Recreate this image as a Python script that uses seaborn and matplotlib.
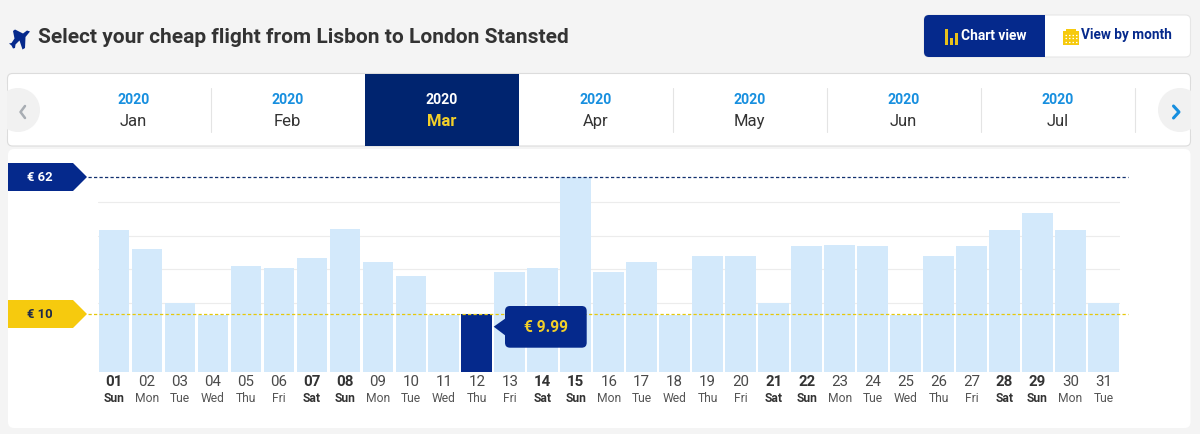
#!/usr/bin/env python3
"""Flight price calendar, Lisbon to London Stansted, March 2020."""

import matplotlib

matplotlib.use("Agg")
import matplotlib.pyplot as plt
import pandas as pd
import seaborn as sns
from matplotlib.patches import FancyBboxPatch, Polygon, Rectangle, Circle

WIDTH, HEIGHT = 1200, 435

NAVY = "#05298c"
DARK_NAVY = "#00246f"
YELLOW = "#f6ca0e"
BAR_BLUE = "#d3e9fb"
LINK_BLUE = "#178fdf"
PAGE = "#f4f4f4"
INK = "#333333"

DAYS = [f"{d:02d}" for d in range(1, 32)]
WEEKDAYS = [
    "Sun", "Mon", "Tue", "Wed", "Thu", "Fri", "Sat",
    "Sun", "Mon", "Tue", "Wed", "Thu", "Fri", "Sat",
    "Sun", "Mon", "Tue", "Wed", "Thu", "Fri", "Sat",
    "Sun", "Mon", "Tue", "Wed", "Thu", "Fri", "Sat",
    "Sun", "Mon", "Tue",
]
PRICES = [
    42.0, 34.8, 14.2, 9.6, 28.3, 27.6, 31.4, 42.4, 29.8, 24.5, 9.6,
    9.99, 26.0, 27.6, 62.0, 26.0, 29.8, 9.6, 32.0, 32.0, 14.2,
    36.0, 36.3, 36.0, 9.6, 32.0, 36.0, 42.0, 48.4, 42.0, 14.2,
]
BOLD_DAYS = ["01", "07", "08", "14", "15", "21", "22", "28", "29"]
SELECTED_DAY = "12"
MONTHS = ["Jan", "Feb", "Mar", "Apr", "May", "Jun", "Jul"]
SELECTED_MONTH = "Mar"
GRID_PRICES = [14.2, 27.1, 39.8, 52.7]
MAX_PRICE, MIN_PRICE = 62, 9.99

# the site's axis does not start at zero
AXIS_FLOOR = -11.8
AXIS_TOP = 72.4

# outline of the little plane next to the title, in pixels
PLANE_ICON = [
    (30, 31.5), (25.5, 37), (25, 48), (22.5, 49.5), (19.5, 40.5), (15.5, 44.5),
    (15, 48), (13, 48.5), (11.5, 45.5), (9, 43.5), (11.5, 43), (14.5, 38.5),
    (13, 31), (15, 29.5), (23, 33.5), (27, 30.5),
]

plt.rcParams["font.family"] = ["Roboto", "DejaVu Sans"]


def pixel_axes(fig, zorder):
    ax = fig.add_axes([0, 0, 1, 1], zorder=zorder)
    ax.set_xlim(0, WIDTH)
    ax.set_ylim(HEIGHT - 1, -1)
    ax.axis("off")
    ax.patch.set_alpha(0)
    return ax


def card(ax, x0, y0, x1, y1, face, edge="none", radius=5):
    ax.add_patch(
        FancyBboxPatch(
            (x0 + radius, y0 + radius),
            x1 - x0 - 2 * radius,
            y1 - y0 - 2 * radius,
            boxstyle=f"round,pad={radius},rounding_size={radius}",
            fc=face,
            ec=edge,
            lw=0.8,
        )
    )


def draw_header(ax):
    ax.add_patch(Polygon(PLANE_ICON, closed=True, fc=NAVY, ec="none"))
    ax.text(38, 36.5, "Select your cheap flight from Lisbon to London Stansted",
            fontsize=15.0, fontweight="bold", color=INK, va="center")

    card(ax, 924, 15, 1190.5, 57, "white", "#e6e6e6")
    card(ax, 924, 15, 1044, 57, NAVY)
    ax.add_patch(Rectangle((1030, 15), 15, 42, fc=NAVY, ec="none"))
    for x, top in zip((944.5, 949.5, 954.5), (29, 38, 33)):
        ax.add_patch(Rectangle((x, top), 3.2, 44.5 - top, fc="#e8c11c", ec="none"))
    ax.text(961, 34.5, "Chart view", fontsize=9.9, fontweight="bold", color="white", va="center")

    ax.add_patch(Rectangle((1063, 31), 16, 14, fc=YELLOW, ec="none"))
    ax.add_patch(Rectangle((1066, 29), 10, 3, fc=YELLOW, ec="none"))
    for row in (34.5, 38, 41.5):
        ax.plot([1065, 1077], [row, row], color="white", lw=0.9, dashes=(1.2, 1.6))
    ax.text(1081, 34.5, "View by month", fontsize=9.8, fontweight="bold", color=NAVY, va="center")


def draw_month_strip(ax):
    card(ax, 7.5, 73.5, 1190.5, 146, "white", "#dcdcdc")
    ax.add_patch(Circle((18, 110), 22, fc="#f1f1f1", ec="none"))
    ax.add_patch(Circle((1180, 110), 22, fc="#f1f1f1", ec="none"))
    ax.add_patch(Rectangle((0, 84), 7.2, 52, fc=PAGE, ec="none"))
    ax.add_patch(Rectangle((1190.8, 84), 9.2, 52, fc=PAGE, ec="none"))
    ax.plot([25, 20.5, 25], [106, 112, 118], color="#a8adb3", lw=1.8)
    ax.plot([1173.5, 1179, 1173.5], [106, 112, 118], color=LINK_BLUE, lw=2.2)

    for x in (210.5, 672.7, 826.6, 980.8, 1134.6):
        ax.plot([x, x], [88, 132], color="#e4e4e4", lw=0.8)

    for i, month in enumerate(MONTHS):
        x = 133.5 + 154 * i
        selected = month == SELECTED_MONTH
        if selected:
            ax.add_patch(Rectangle((x - 77, 74), 154, 72, fc=DARK_NAVY, ec="none"))
        ax.text(x, 98.5, "2020", fontsize=10.2, fontweight="bold", ha="center", va="center",
                color="white" if selected else LINK_BLUE)
        ax.text(x, 125, month, fontsize=12, ha="center", va="baseline",
                fontweight="bold" if selected else "normal",
                color="#f2cf2a" if selected else INK)


def draw_flag(ax, y, face, text_color, label):
    ax.add_patch(Polygon(
        [(8, y - 14), (73, y - 14), (87, y), (73, y + 14), (8, y + 14)],
        closed=True, fc=face, ec="none",
    ))
    ax.text(40, y - 0.5, label, fontsize=9.4, fontweight="bold", color=text_color,
            ha="center", va="center")


def draw_tooltip(ax, price):
    ax.add_patch(Polygon([(493.7, 326.7), (506, 318), (506, 336)], closed=True, fc=NAVY, ec="none"))
    card(ax, 505, 306, 586.7, 347.7, NAVY, radius=5)
    ax.text(545.5, 326.5, f"\u20ac {price:.2f}", fontsize=11.2, fontweight="bold",
            color="#f2cf2a", ha="center", va="center")


def draw_chart(ax, frame):
    sns.barplot(
        data=frame,
        x="day",
        y="height",
        hue="selected",
        palette={False: BAR_BLUE, True: NAVY},
        dodge=False,
        legend=False,
        width=0.93,
        saturation=1,
        bottom=AXIS_FLOOR,
        linewidth=0,
        zorder=2,
        ax=ax,
    )
    ax.set_ylim(AXIS_FLOOR, AXIS_TOP)
    ax.set_xlim(-0.5, len(DAYS) - 0.5)
    ax.set_yticks(GRID_PRICES)
    ax.set_yticklabels([])
    ax.grid(axis="y", color="#ececec", lw=0.8, zorder=0)
    ax.set_axisbelow(True)
    ax.tick_params(length=0, pad=2)
    ax.set_xlabel("")
    ax.set_ylabel("")
    ax.patch.set_alpha(0)
    sns.despine(ax=ax, left=True, bottom=True)

    ax.set_xticks(range(len(DAYS)))
    ax.set_xticklabels(DAYS, fontsize=10.8)
    for tick, day in zip(ax.get_xticklabels(), DAYS):
        bold = day in BOLD_DAYS
        tick.set_fontweight("bold" if bold else "normal")
        tick.set_color(INK if bold else "#4a4a4a")

    for i, (day, weekday) in enumerate(zip(DAYS, WEEKDAYS)):
        bold = day in BOLD_DAYS
        ax.annotate(
            weekday,
            xy=(i, 0),
            xycoords=ax.get_xaxis_transform(),
            xytext=(0, -19),
            textcoords="offset points",
            fontsize=8.7,
            fontweight="bold" if bold else "normal",
            color=INK if bold else "#555555",
            ha="center",
            va="center",
        )

    trans = ax.get_yaxis_transform()
    ax.plot([-0.0093, 1.0078], [MAX_PRICE, MAX_PRICE], transform=trans, clip_on=False,
            color="#12306f", lw=0.9, dashes=(2.6, 1.8), zorder=4)
    ax.plot([-0.0093, 1.0078], [MIN_PRICE, MIN_PRICE], transform=trans, clip_on=False,
            color="#e6c80a", lw=0.9, dashes=(2.6, 1.8), zorder=4)


def main():
    sns.set_theme(style="white")
    plt.rcParams["font.family"] = ["Roboto", "DejaVu Sans"]

    frame = pd.DataFrame({"day": DAYS, "price": PRICES})
    frame["height"] = frame["price"] - AXIS_FLOOR
    frame["selected"] = frame["day"] == SELECTED_DAY

    fig = plt.figure(figsize=(WIDTH / 100, HEIGHT / 100), dpi=100, facecolor=PAGE)

    back = pixel_axes(fig, 0)
    draw_header(back)
    draw_month_strip(back)
    card(back, 8, 149, 1190.5, 428, "white", radius=6)

    chart = fig.add_axes(
        [97.5 / WIDTH, (HEIGHT - 372.5) / HEIGHT, 1022.5 / WIDTH, 221.7 / HEIGHT],
        zorder=1,
    )
    draw_chart(chart, frame)

    front = pixel_axes(fig, 2)
    draw_flag(front, 177, NAVY, "white", f"\u20ac {MAX_PRICE}")
    draw_flag(front, 314, YELLOW, "#1e2a4a", "\u20ac 10")
    draw_tooltip(front, MIN_PRICE)

    fig.savefig("out.png", dpi=100, facecolor=PAGE)
    plt.close(fig)


if __name__ == "__main__":
    main()
